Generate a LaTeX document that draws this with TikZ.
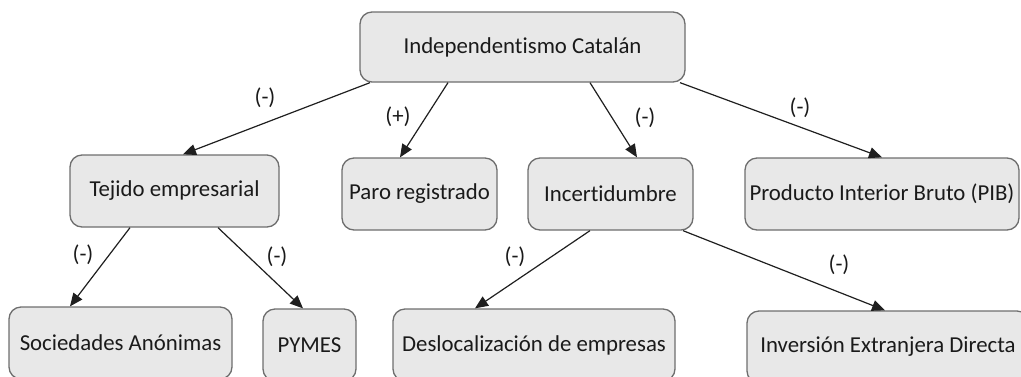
\documentclass[tikz,border=0pt]{standalone}
\usepackage{fontspec}
\setmainfont{Carlito}[Ligatures=CommonOff]
\usetikzlibrary{arrows.meta,calc}
\definecolor{boxfill}{HTML}{E8E8E8}
\definecolor{boxline}{HTML}{6E6E6E}
\definecolor{txt}{HTML}{1A1A1A}
\tikzset{
  box/.style={draw=boxline, fill=boxfill, line width=1.3pt, rounded corners=12pt,
    minimum height=72pt, inner sep=0pt, text=txt, font=\fontsize{22.8}{26}\selectfont},
  arr/.style={draw=black!88, line width=1.2pt, -{Triangle[length=13pt,width=11pt]}},
  lab/.style={text=txt, font=\fontsize{22.8}{26}\selectfont, inner sep=0pt}
}
\begin{document}
\begin{tikzpicture}[x=1pt,y=-1pt]
\useasboundingbox (0,0) rectangle (1021,376);
\node[box, minimum width=325pt, minimum height=70pt] (top) at (522.5,47) {Independentismo Catalán};
\node[box, minimum width=209pt] (tej) at (174.5,191) {Tejido empresarial};
\node[box, minimum width=155pt] (paro) at (419.5,194) {Paro registrado};
\node[box, minimum width=165pt] (inc) at (610.5,194) {Incertidumbre};
\node[box, minimum width=274pt] (pib) at (882,194) {Producto Interior Bruto (PIB)};
\node[box, minimum width=223pt] (soc) at (120.5,343) {Sociedades Anónimas};
\node[box, minimum width=93pt] (pym) at (309.5,345) {PYMES};
\node[box, minimum width=282pt] (des) at (534,345) {Deslocalización de empresas};
\node[box, minimum width=282pt] (inv) at (888,347) {Inversión Extranjera Directa};

\draw[arr] ([xshift=-152.5pt]top.south) -- ([xshift=8.5pt]tej.north);
\draw[arr] ([xshift=-74.5pt]top.south) -- ([xshift=-19.5pt]paro.north);
\draw[arr] ([xshift=67.5pt]top.south) -- ([xshift=26.5pt]inc.north);
\draw[arr] ([xshift=157.5pt]top.south) -- ([xshift=0pt]pib.north);
\draw[arr] ([xshift=-44.5pt]tej.south) -- ([xshift=-50.5pt]soc.north);
\draw[arr] ([xshift=43.5pt]tej.south) -- ([xshift=-6.5pt]pym.north);
\draw[arr] ([xshift=-20.5pt]inc.south) -- ([xshift=-59pt]des.north);
\draw[arr] ([xshift=72.5pt]inc.south) -- ([xshift=-3pt]inv.north);

\node[lab] (l1) at (265,98) {(-)};
\node[lab] (l2) at (398,117) {(+)};
\node[lab] (l3) at (645,118) {(-)};
\node[lab] (l4) at (800,108) {(-)};
\node[lab] (l5) at (83,255) {(-)};
\node[lab] (l6) at (277,257) {(-)};
\node[lab] (l7) at (515,257) {(-)};
\node[lab] (l8) at (839,265) {(-)};
\end{tikzpicture}
\end{document}
